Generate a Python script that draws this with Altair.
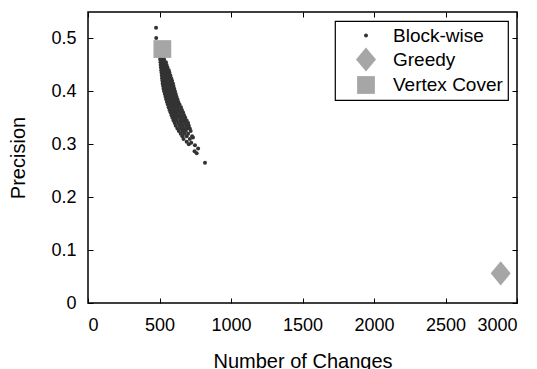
import altair as alt
import pandas as pd

# ---- data ----
methods = ["Block-wise", "Greedy", "Vertex Cover"]

# Block-wise cloud: (precision, [number of changes ...]) rows
block_rows = [
    (0.520, [476]),
    (0.501, [477]),
    (0.470, [506, 520]),
    (0.465, [503, 515, 528]),
    (0.460, [505, 518, 532]),
    (0.455, [507, 520, 533, 545]),
    (0.450, [508, 521, 536, 550]),
    (0.445, [510, 524, 540, 556]),
    (0.440, [512, 526, 542, 556, 565]),
    (0.435, [514, 529, 545, 559, 570]),
    (0.430, [516, 531, 548, 563, 576]),
    (0.425, [518, 534, 551, 567, 582]),
    (0.420, [520, 537, 555, 571, 588]),
    (0.415, [522, 540, 558, 576, 594]),
    (0.410, [525, 543, 561, 580, 598]),
    (0.405, [528, 546, 565, 584, 603]),
    (0.400, [532, 550, 569, 589, 608]),
    (0.395, [537, 555, 574, 594, 614]),
    (0.390, [542, 560, 580, 600, 619]),
    (0.385, [547, 566, 586, 606, 625]),
    (0.380, [552, 571, 592, 612, 632]),
    (0.375, [558, 578, 598, 619, 640]),
    (0.370, [564, 585, 606, 628, 650]),
    (0.365, [570, 592, 613, 635, 657]),
    (0.360, [577, 598, 620, 643, 665]),
    (0.355, [584, 606, 628, 650, 672]),
    (0.350, [590, 613, 636, 658, 680]),
    (0.345, [598, 620, 645, 668, 690]),
    (0.340, [606, 630, 655, 678, 700]),
    (0.335, [614, 640, 663, 686, 705]),
    (0.330, [625, 650, 672, 695, 712]),
    (0.325, [635, 660, 684, 718]),
    (0.320, [648, 672, 700]),
    (0.315, [660, 690, 728]),
    (0.310, [668, 712]),
]
block_outlier_x = [734, 722, 748, 705, 760, 745, 818, 690, 770]
block_outlier_y = [0.313, 0.303, 0.298, 0.300, 0.283, 0.287, 0.265, 0.305, 0.292]

greedy_x = [2886]
greedy_y = [0.056]
vertex_x = [520]
vertex_y = [0.480]

x_ticks = [0, 500, 1000, 1500, 2000, 2500, 3000]
y_ticks = [0, 0.1, 0.2, 0.3, 0.4, 0.5]

# ---- table ----
rows = []
for yv, xs in block_rows:
    for xv in xs:
        rows.append({"changes": xv, "precision": yv, "method": "Block-wise"})
for xv, yv in zip(block_outlier_x, block_outlier_y):
    rows.append({"changes": xv, "precision": yv, "method": "Block-wise"})
for xv, yv in zip(greedy_x, greedy_y):
    rows.append({"changes": xv, "precision": yv, "method": "Greedy"})
for xv, yv in zip(vertex_x, vertex_y):
    rows.append({"changes": xv, "precision": yv, "method": "Vertex Cover"})
df = pd.DataFrame(rows)

FONT = "Liberation Sans"
# marker outlines (unit paths, scaled by the size scale)
diamond = "M-1.16,0L0,-1.4L1.16,0L0,1.4Z"
square = "M-0.74,-0.74L0.74,-0.74L0.74,0.74L-0.74,0.74Z"

xscale = alt.Scale(domain=[0, 3000], nice=False, zero=False)
yscale = alt.Scale(domain=[0, 0.55], nice=False, zero=False)

legend = alt.Legend(
    title=None,
    orient="none",
    legendX=247,
    legendY=9,
    direction="vertical",
    fillColor="white",
    strokeColor="black",
    padding=5,
    labelFont=FONT,
    labelFontSize=19,
    labelColor="black",
    labelOffset=15,
    symbolOffset=14,
    rowPadding=1,
    symbolStrokeWidth=0,
    symbolOpacity=1,
)

points = alt.Chart(df).mark_point(filled=True, opacity=1, strokeWidth=0).encode(
    x=alt.X(
        "changes:Q",
        scale=xscale,
        axis=alt.Axis(
            values=x_ticks, title="Number of Changes", format="d",
            offset=-5, tickSize=5, domain=False, grid=False,
            labelPadding=13, titlePadding=17,
        ),
    ),
    y=alt.Y(
        "precision:Q",
        scale=yscale,
        axis=alt.Axis(
            values=y_ticks, title="Precision", format="~g",
            offset=-5, tickSize=5, domain=False, grid=False,
            labelPadding=12, titlePadding=22,
        ),
    ),
    color=alt.Color(
        "method:N",
        scale=alt.Scale(domain=methods, range=["#333333", "#a6a6a6", "#a6a6a6"]),
        legend=legend,
    ),
    shape=alt.Shape(
        "method:N",
        scale=alt.Scale(domain=methods, range=["circle", diamond, square]),
        legend=legend,
    ),
    size=alt.Size(
        "method:N",
        scale=alt.Scale(domain=methods, range=[16, 576]),
        legend=legend,
    ),
)

frame = alt.Chart(df).mark_point(opacity=0).encode(
    x=alt.X(
        "changes:Q",
        scale=xscale,
        axis=alt.Axis(
            orient="top", values=x_ticks, labels=False, title=None,
            offset=-5, tickSize=5, domain=False, grid=False,
        ),
    ),
    y=alt.Y(
        "precision:Q",
        scale=yscale,
        axis=alt.Axis(
            orient="right", values=y_ticks, labels=False, title=None,
            offset=-5, tickSize=5, domain=False, grid=False,
        ),
    ),
)

chart = (
    alt.layer(points, frame)
    .resolve_scale(x="independent", y="independent")
    .properties(
        width=429,
        height=291,
        autosize=alt.AutoSizeParams(type="none"),
        padding={"left": 88, "top": 12, "right": 20, "bottom": 66},
        background="white",
    )
    .configure_view(stroke="black", strokeWidth=1.5)
    .configure_legend(strokeWidth=1.2)
    .configure_axis(
        labelFont=FONT, titleFont=FONT, labelFontSize=18, titleFontSize=20,
        titleFontWeight="normal", labelColor="black", titleColor="black",
        tickColor="black", tickWidth=1,
    )
)

chart.save("out.html", embed_options={"renderer": "svg", "actions": False})
